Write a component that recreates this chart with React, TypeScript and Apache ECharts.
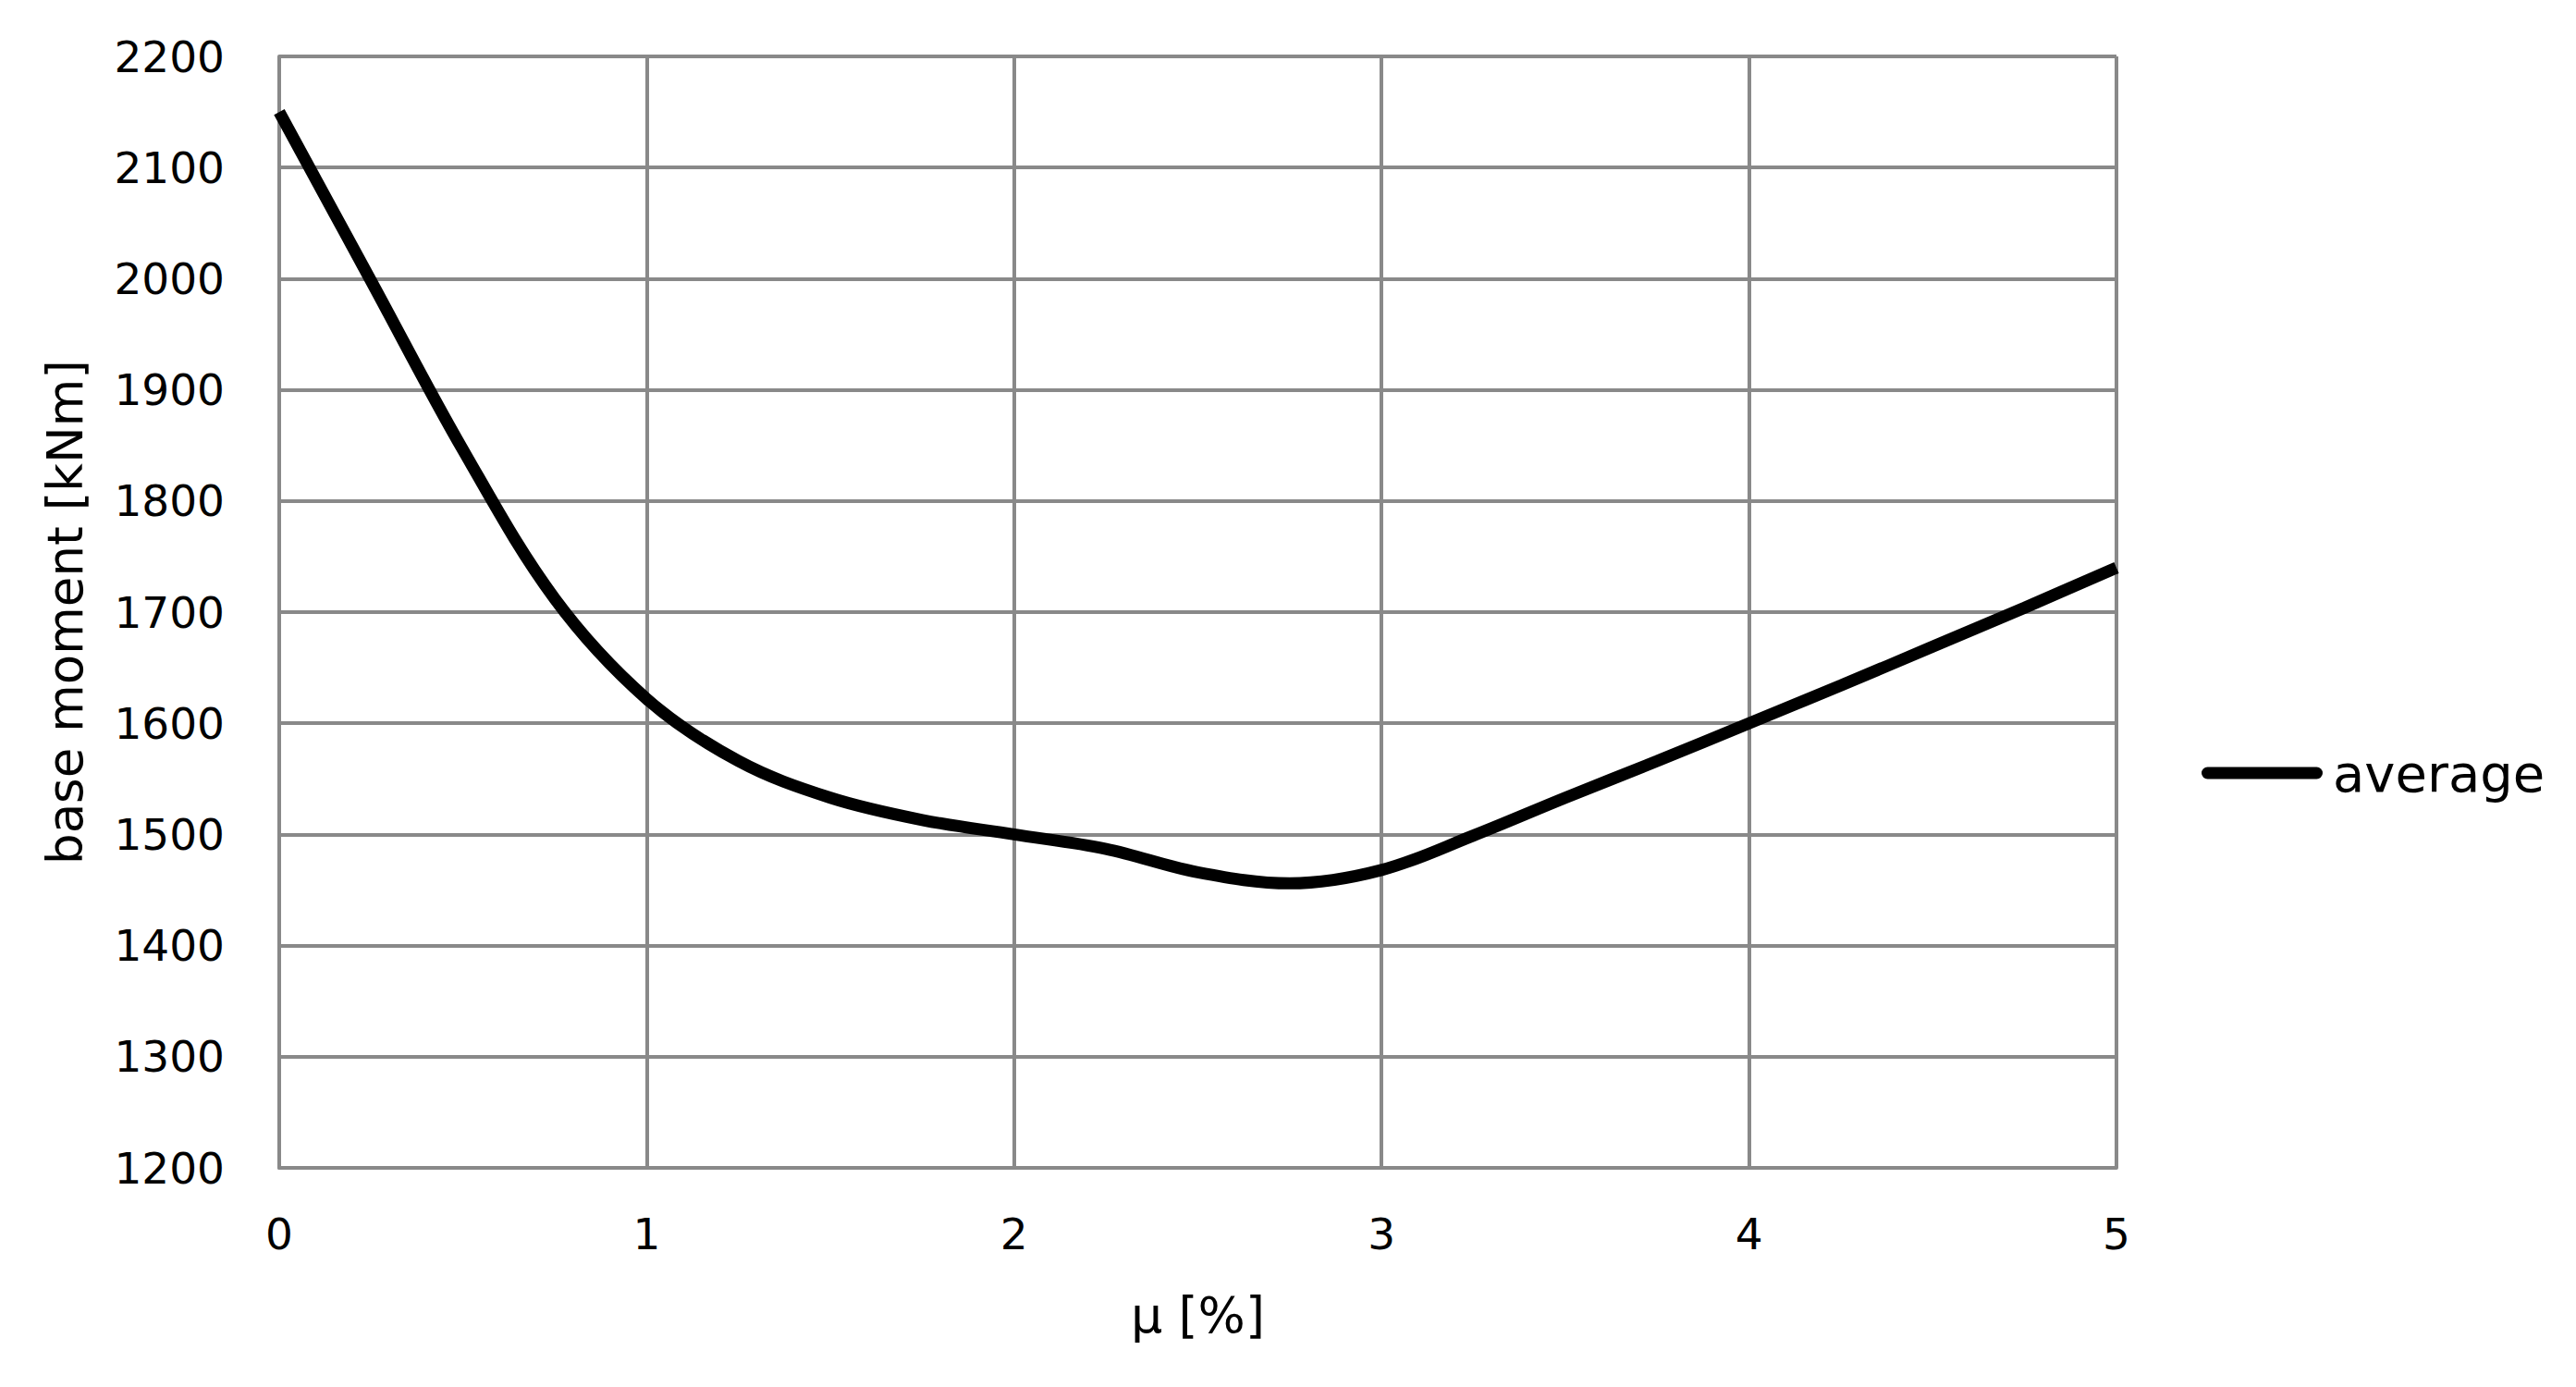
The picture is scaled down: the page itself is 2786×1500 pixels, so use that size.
import React, { useEffect, useRef } from "react";
import * as echarts from "echarts";

const muValues = [0, 0.25, 0.5, 0.75, 1, 1.25, 1.5, 1.75, 2, 2.25, 2.5, 2.75, 3, 3.25, 3.5, 3.75, 4, 4.25, 4.5, 4.75, 5];
const averageMoment = [2150, 1998, 1846, 1712, 1622, 1566, 1533, 1513, 1500, 1487, 1466, 1456, 1468, 1499, 1533, 1566, 1600, 1634, 1669, 1704, 1740];
const seriesName = "average";
const xTitle = "μ [%]";
const yTitle = "base moment [kNm]";

const FONT = "'DejaVu Sans', sans-serif";
const GRID_COLOR = "#898989";

export default function App() {
  const ref = useRef<HTMLDivElement>(null);

  useEffect(() => {
    if (!ref.current) return;
    const chart = echarts.init(ref.current, undefined, { renderer: "svg" });
    const data = muValues.map((x, i) => [x, averageMoment[i]]);
    chart.setOption({
      animation: false,
      backgroundColor: "#ffffff",
      textStyle: { fontFamily: FONT },
      grid: { left: 302, right: 497, top: 61, bottom: 237, containLabel: false },
      legend: {
        data: [seriesName],
        left: 2376,
        top: 803,
        orient: "vertical",
        icon: "path://M6.5,0 H124.5 A6.5,6.5 0 0 1 124.5,13 H6.5 A6.5,6.5 0 0 1 6.5,0 Z",
        itemWidth: 131,
        itemHeight: 13,
        itemGap: 0,
        textStyle: { fontFamily: FONT, fontSize: 56, color: "#000", lineHeight: 56, padding: [0, 0, 0, 6] },
      },
      xAxis: {
        type: "value",
        min: 0,
        max: 5,
        interval: 1,
        name: xTitle,
        nameLocation: "middle",
        nameGap: 132,
        nameTextStyle: { fontFamily: FONT, fontSize: 54, color: "#000" },
        axisLine: { show: true, lineStyle: { color: GRID_COLOR, width: 4 } },
        axisTick: { show: false },
        axisLabel: { fontFamily: FONT, fontSize: 47, color: "#000", margin: 48, formatter: (v: number) => String(v) },
        splitLine: { show: true, lineStyle: { color: GRID_COLOR, width: 4 } },
      },
      yAxis: {
        type: "value",
        min: 1200,
        max: 2200,
        interval: 100,
        name: yTitle,
        nameLocation: "middle",
        nameRotate: 90,
        nameGap: 205,
        nameTextStyle: { fontFamily: FONT, fontSize: 53, color: "#000" },
        axisLine: { show: true, lineStyle: { color: GRID_COLOR, width: 4 } },
        axisTick: { show: false },
        axisLabel: { fontFamily: FONT, fontSize: 47, color: "#000", margin: 59, formatter: (v: number) => String(v) },
        splitLine: { show: true, lineStyle: { color: GRID_COLOR, width: 4 } },
      },
      series: [
        {
          name: seriesName,
          type: "line",
          data,
          smooth: 0.35,
          showSymbol: false,
          symbol: "none",
          lineStyle: { color: "#000", width: 13 },
          itemStyle: { color: "#000" },
        },
      ],
    });
    return () => chart.dispose();
  }, []);

  return (
    <div
      ref={ref}
      style={{ position: "fixed", left: 0, top: 0, width: 2786, height: 1500, background: "#fff" }}
    />
  );
}
